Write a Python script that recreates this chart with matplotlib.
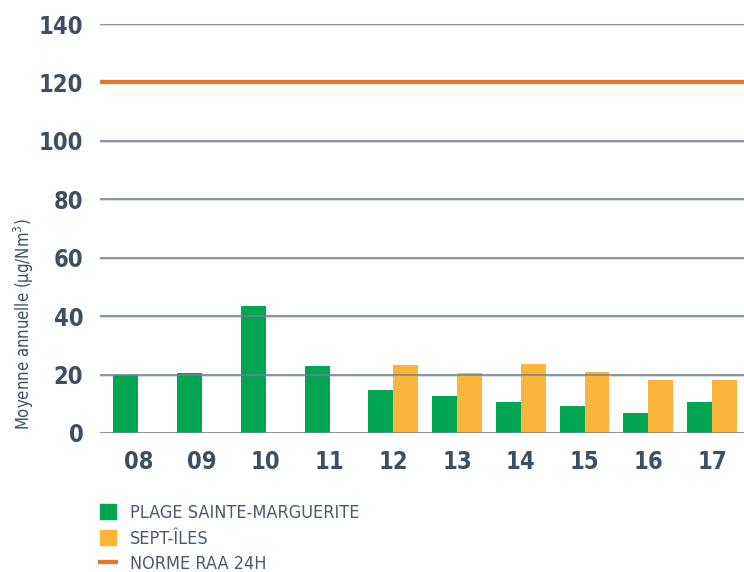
import numpy as np
import matplotlib.pyplot as plt
from matplotlib.patches import Patch
from matplotlib.lines import Line2D

# data
years = ['08', '09', '10', '11', '12', '13', '14', '15', '16', '17']
plage = [20.0, 20.7, 43.5, 22.9, 14.7, 12.7, 10.6, 9.2, 6.8, 10.6]
sept_iles = [np.nan, np.nan, np.nan, np.nan, 23.3, 20.5, 23.6, 20.9, 18.1, 18.1]
norme = 120
yticks = [0, 20, 40, 60, 80, 100, 120, 140]

green = '#00a651'
yellow = '#fbb53b'
orange = '#e87722'
text_col = '#3d4f61'
grid_col = '#74838f'

plt.rcParams['font.family'] = ['DejaVu Sans']
plt.rcParams['font.stretch'] = 'condensed'

fig = plt.figure(figsize=(7.44, 5.72), dpi=100)
ax = fig.add_axes([100/744, 1 - 433/572, 644/744, 409/572])

x = np.arange(len(years))
w = 0.39
ax.bar(x - w/2, plage, w, color=green, zorder=2)
ax.bar(x + w/2, sept_iles, w, color=yellow, zorder=2)

# soft halo under the grid lines
for v in yticks:
    if v != norme:
        ax.axhline(v, color='#d5dbe0', lw=2.2, zorder=1)
ax.set_yticks(yticks)
ax.yaxis.grid(True, color=grid_col, lw=1.1, zorder=3)
ax.set_axisbelow(False)
ax.axhline(norme, color=orange, lw=3, zorder=4)

ax.set_xlim(-0.6, 9.5)
ax.set_ylim(0, 140)
ax.set_xticks(x)
ax.set_xticklabels(years)
for s in ax.spines.values():
    s.set_visible(False)
ax.tick_params(axis='both', length=0, labelsize=17, labelcolor=text_col)
ax.tick_params(axis='y', pad=12)
ax.tick_params(axis='x', pad=12)
for lab in ax.get_xticklabels() + ax.get_yticklabels():
    lab.set_fontweight('bold')

ax.set_ylabel('Moyenne annuelle (µg/Nm$^3$)', fontsize=12, color=text_col)
ax.yaxis.set_label_coords(-0.099, 0.267)

handles = [Patch(color=green), Patch(color=yellow), Line2D([], [], color=orange, lw=3)]
labels = ['PLAGE SAINTE-MARGUERITE', 'SEPT-ÎLES', 'NORME RAA 24H']
leg = fig.legend(handles, labels, loc='upper left', bbox_to_anchor=(91/744, 1 - 495/572),
                 frameon=False, fontsize=13, handlelength=0.9, handleheight=0.9,
                 handletextpad=0.75, labelspacing=0.42, borderpad=0)
for t in leg.get_texts():
    t.set_color('#4a5a6b')

fig.savefig('out.png', dpi=100)
